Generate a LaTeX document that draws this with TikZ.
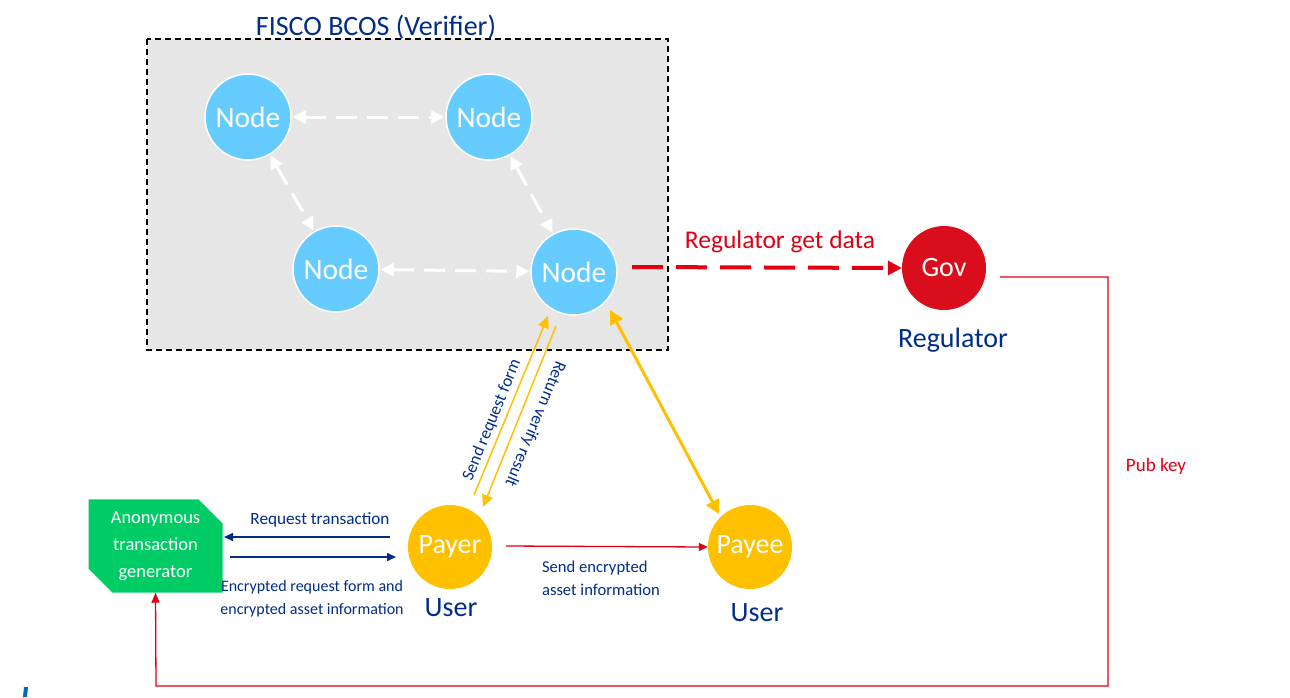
\documentclass[tikz,border=0pt]{standalone}
\usepackage{fontspec}
\setmainfont{Carlito}
\usetikzlibrary{arrows.meta,shapes.misc}
\definecolor{tblue}{RGB}{0,45,135}
\definecolor{nblue}{RGB}{102,204,255}
\definecolor{bgray}{RGB}{230,230,230}
\definecolor{gred}{RGB}{217,13,27}
\definecolor{lred}{RGB}{224,0,20}
\definecolor{ylw}{RGB}{255,192,0}
\definecolor{ggreen}{RGB}{0,204,102}
\tikzset{
  bnode/.style={circle,fill=nblue,draw=white,line width=1.5pt,minimum size=86pt,inner sep=0pt,text=white,font=\fontsize{29.5}{32}\selectfont},
  unode/.style={circle,fill=ylw,minimum size=84pt,inner sep=0pt,text=white,font=\fontsize{28}{30}\selectfont},
  wdash/.style={draw=white,line width=3pt,dash pattern=on 21pt off 10pt,{Triangle[length=13pt,width=13pt]}-{Triangle[length=13pt,width=13pt]}},
  lbl/.style={text=tblue,font=\fontsize{28}{30}\selectfont},
  small/.style={text=tblue,font=\fontsize{17.2}{23}\selectfont},
  barrow/.style={draw=tblue,line width=1.6pt,-{Triangle[length=9pt,width=8pt]}},
  yarrow/.style={draw=ylw,line width=1.5pt,-{Triangle[length=12pt,width=11pt]}},
}
\begin{document}
\begin{tikzpicture}[x=1pt,y=-1pt]
\useasboundingbox (0,0) rectangle (1290,697);
% verifier box
\draw[fill=bgray,draw=black,line width=1.3pt,dash pattern=on 6pt off 4pt] (147,39) rectangle (668,350);
\node[text=tblue,font=\fontsize{28}{30}\selectfont] (title) at (376,27) {FISCO BCOS (Verifier)};
% nodes
\node[bnode] (n1) at (248,117) {Node};
\node[bnode] (n2) at (489,117) {Node};
\node[bnode] (n3) at (336,269) {Node};
\node[bnode] (n4) at (574,272) {Node};
\draw[wdash,shorten <=1pt,shorten >=1pt] (n1) -- (n2);
\draw[wdash,shorten <=1pt,shorten >=1pt] (n1) -- (n3);
\draw[wdash,shorten <=1pt,shorten >=1pt] (n2) -- (n4);
\draw[wdash,shorten <=1pt,shorten >=1pt] (n3) -- (n4);
% regulator
\node[circle,fill=gred,minimum size=84pt,inner sep=0pt,text=white,font=\fontsize{28}{30}\selectfont] (gov) at (944,268) {Gov};
\node[lbl] (reg) at (953,340) {Regulator};
\coordinate (r0) at (632,267);
\draw[draw=lred,line width=4pt,dash pattern=on 31pt off 13pt,-{Triangle[length=14pt,width=14pt]}] (r0) -- (gov.west);
\node[text=lred,font=\fontsize{25.5}{28}\selectfont] (rgd) at (780,242) {Regulator get data};
% generator
\node[chamfered rectangle,chamfered rectangle corners={north east,south west},chamfered rectangle xsep=12pt,chamfered rectangle ysep=12pt,fill=ggreen,minimum width=134pt,minimum height=80pt,inner sep=0pt,text=white,align=center,font=\fontsize{18.5}{27}\selectfont] (gen) at (155.5,546) {Anonymous\\transaction\\generator};
% pub key path
\coordinate (p0) at (1000,277);
\coordinate (p1) at (1108,277);
\coordinate (p2) at (1108,686);
\coordinate (p3) at (156,686);
\draw[draw=lred,line width=1.3pt,-{Triangle[length=10pt,width=8pt]}] (p0) -- (p1) -- (p2) -- (p3) -- (gen.south);
\node[text=lred,font=\fontsize{19}{22}\selectfont] (pk) at (1156,466) {Pub key};
% users
\node[unode] (payer) at (450,547) {Payer};
\node[lbl] (u1) at (451,608) {User};
\node[unode] (payee) at (750,547) {Payee};
\node[lbl] (u2) at (757,613) {User};
% blue arrows
\coordinate (b1) at (390,537);
\coordinate (b2) at (224,537);
\coordinate (b3) at (230,557);
\coordinate (b4) at (396,557);
\draw[barrow] (b1) -- (b2);
\draw[barrow] (b3) -- (b4);
\node[small] (rt) at (320,520) {Request transaction};
\node[small,align=center,font=\fontsize{16}{23}\selectfont] (erf) at (312,599) {Encrypted request form and\\encrypted asset information};
% payer -> payee
\draw[draw=lred,line width=1.3pt,-{Triangle[length=9pt,width=8pt]}] (payer.east) ++(14,-1) coordinate (q0) -- (payee.west);
\node[small,align=left,font=\fontsize{16.6}{23}\selectfont] (sea) at (601,578) {Send encrypted\\asset information};
% yellow arrows
\coordinate (s1) at (474,495);
\coordinate (s2) at (548,316);
\coordinate (t1) at (556,326);
\coordinate (t2) at (483,507);
\draw[yarrow] (s1) -- (s2);
\draw[yarrow] (t1) -- (t2);
\node[small,rotate=67.8] (srf) at (492,420) {Send request form};
\node[small,rotate=-112.5] (rvr) at (535,424) {Return verify result};
\coordinate (y1) at (610,310);
\coordinate (y2) at (719,514);
\draw[draw=ylw,line width=3pt,{Triangle[length=14pt,width=14pt]}-{Triangle[length=14pt,width=14pt]}] (y1) -- (y2);
% stray mark
\fill[tblue!70!cyan] (24,687) -- (28,687) -- (27,697) -- (23,697) -- cycle;
\end{tikzpicture}
\end{document}
